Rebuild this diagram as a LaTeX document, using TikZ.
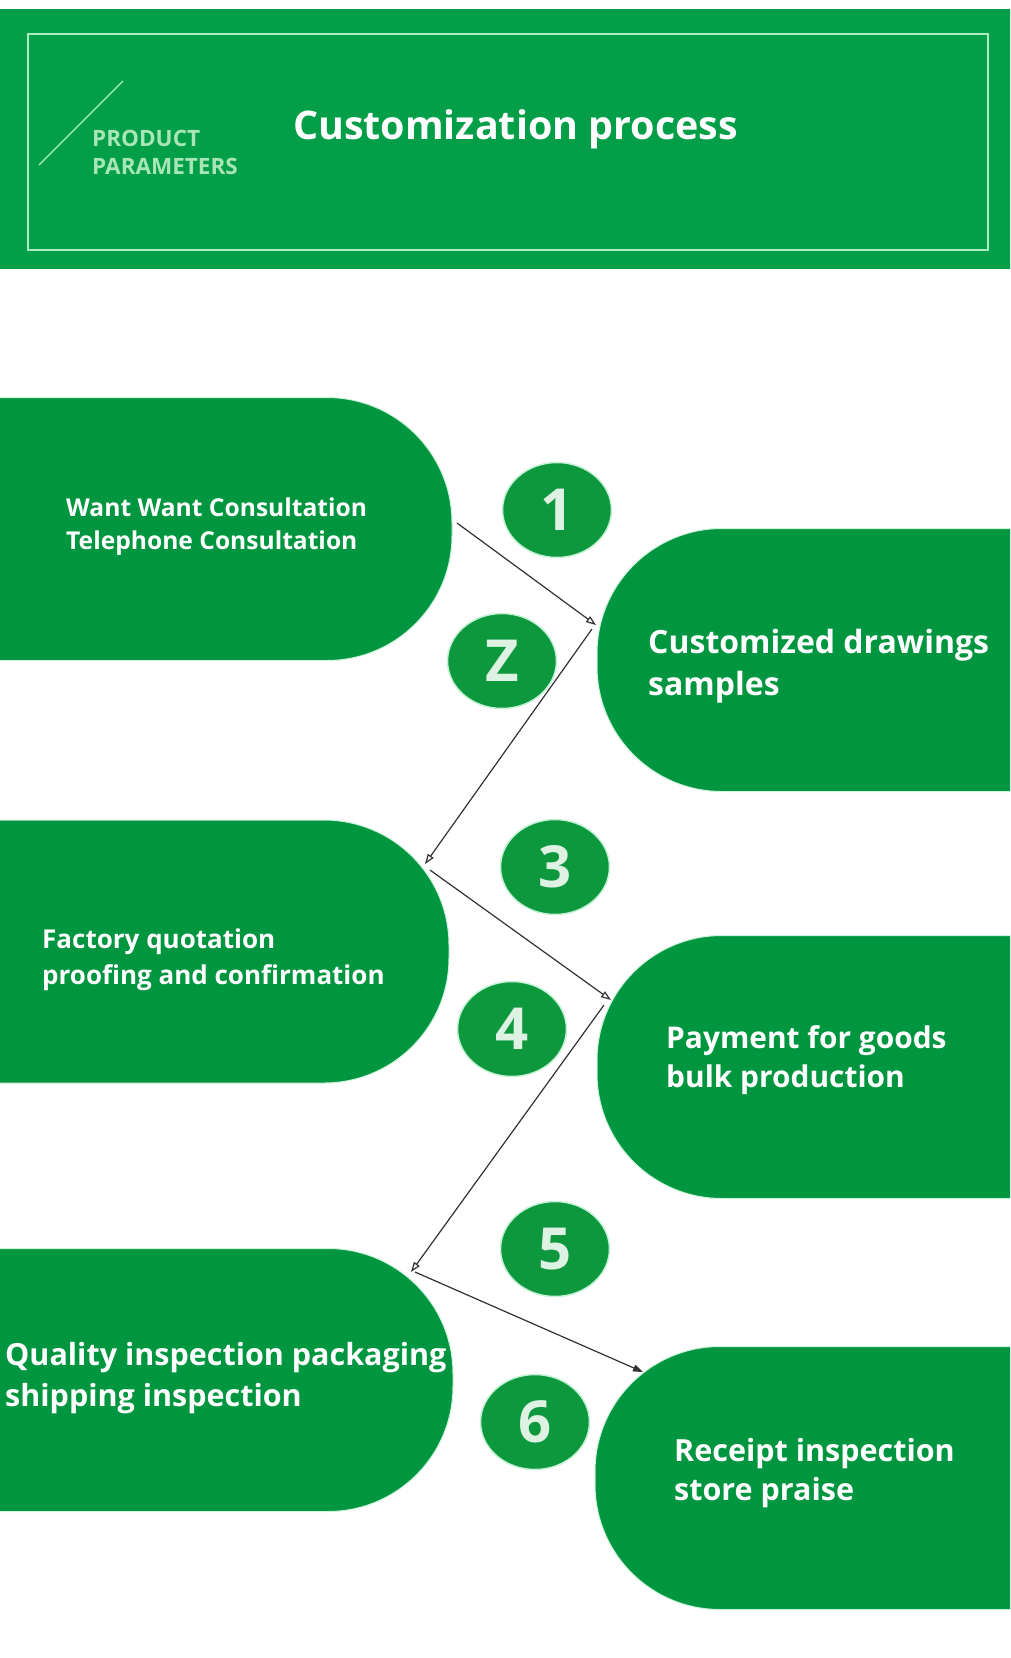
\documentclass[tikz,border=0pt]{standalone}
\usepackage{fontspec}
\setmainfont{Open Sans}
\usetikzlibrary{arrows.meta,shapes.geometric}
\definecolor{bandgreen}{RGB}{2,158,72}
\definecolor{pillgreen}{RGB}{0,150,64}
\definecolor{dotgreen}{RGB}{14,152,62}
\definecolor{mint}{RGB}{170,236,196}
\definecolor{prodtext}{RGB}{168,230,184}
\definecolor{numtext}{RGB}{222,242,228}
\definecolor{arrowgray}{RGB}{50,50,50}
\newcommand\fsz[2]{\fontsize{#1}{#2}\selectfont}
\tikzset{
  pill/.style={fill=pillgreen, draw=mint!60, line width=1pt, rounded corners=125pt, inner sep=0pt, minimum height=263pt},
  pilltext/.style 2 args={anchor=west, text=white, align=left, inner sep=0pt, font=\bfseries\fsz{#1}{#2}},
  numdot/.style={ellipse, fill=dotgreen, draw=mint!70, line width=1.5pt, minimum width=109pt, minimum height=95pt, inner sep=0pt, text=numtext, font=\bfseries\fsz{58}{58}},
  flow/.style={draw=arrowgray, line width=1.2pt, -{Triangle[open, length=10pt, width=7pt]}},
  flowfilled/.style={draw=arrowgray, line width=1.2pt, -{Triangle[length=10pt, width=7pt]}}
}
\begin{document}
\begin{tikzpicture}[x=1pt, y=-1pt]
\useasboundingbox (0,0) rectangle (1010,1658);
\clip (0,0) rectangle (1010,1658);
\fill[white] (0,0) rectangle (1010,1658);
% header
\node (band) [fill=bandgreen, minimum width=1012pt, minimum height=260pt, inner sep=0pt] at (505,139) {};
\node (frame) [draw=mint, line width=2.5pt, minimum width=960pt, minimum height=216pt, inner sep=0pt] at (508,142) {};
\draw[mint, line width=1.2pt] (39,165) -- (123,81);
\node (prod) [anchor=west, text=prodtext, align=left, inner sep=0pt, font=\bfseries\fsz{22.5}{28}] at (92,152) {PRODUCT\\PARAMETERS};
\node (title) [anchor=west, text=white, inner sep=0pt, font=\bfseries\fsz{39.4}{40}] at (293,129) {Customization process};
% pills
\node (p1) [pill, minimum width=652pt] at (126,529) {};
\node (p2) [pill, minimum width=613pt] at (903.5,660) {};
\node (p3) [pill, minimum width=649pt] at (124.5,951.5) {};
\node (p4) [pill, minimum width=613pt] at (903.5,1067) {};
\node (p5) [pill, minimum width=653pt] at (126.5,1380) {};
\node (p6) [pill, minimum width=615pt] at (902.5,1478) {};
\node (t1) [pilltext={24.6}{33}] at (66,527) {Want Want Consultation\\Telephone Consultation};
\node (t2) [pilltext={32}{42}] at (648,666) {Customized drawings\\samples};
\node (t3) [pilltext={26}{36}] at (42,960) {Factory quotation\\proofing and confirmation};
\node (t4) [pilltext={29.9}{39}] at (666,1060) {Payment for goods\\bulk production};
\node (t5) [pilltext={30.5}{41}] at (5,1378) {Quality inspection packaging\\shipping inspection};
\node (t6) [pilltext={30.5}{39}] at (674,1473) {Receipt inspection\\store praise};
% number dots
\node (n1) [numdot] at (557,510) {1};
\node (n2) [numdot] at (502,661) {Z};
\node (n3) [numdot] at (555,867) {3};
\node (n4) [numdot] at (512,1029) {4};
\node (n5) [numdot] at (555,1249) {5};
\node (n6) [numdot] at (535,1422) {6};
% connectors
\coordinate (a1s) at (457,523); \coordinate (a1e) at (596,625);
\coordinate (a2s) at (592,629); \coordinate (a2e) at (425,864);
\coordinate (a3s) at (430,870); \coordinate (a3e) at (611,1000);
\coordinate (a4s) at (604,1005); \coordinate (a4e) at (411,1272);
\coordinate (a5s) at (415,1272); \coordinate (a5e) at (643,1372);
\draw[flow] (a1s) -- (a1e);
\draw[flow] (a2s) -- (a2e);
\draw[flow] (a3s) -- (a3e);
\draw[flow] (a4s) -- (a4e);
\draw[flowfilled] (a5s) -- (a5e);
\end{tikzpicture}
\end{document}
